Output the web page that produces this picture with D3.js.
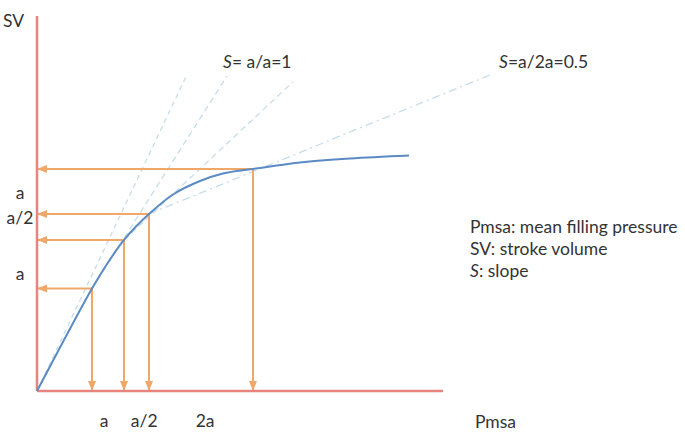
<!DOCTYPE html>
<html>
<head>
<meta charset="utf-8">
<script src="https://cdn.jsdelivr.net/npm/d3@7"></script>
<style>
  html, body { margin: 0; padding: 0; background: #fff; }
  text { font-family: Lato, "Open Sans", sans-serif; fill: #333; font-size: 17.5px; }
</style>
</head>
<body>
<svg id="chart" width="685" height="438"></svg>
<script>
// curve of stroke volume vs Pmsa (data units, 0-100 on both axes)
var curveX = [0, 6.65, 13.55, 17.49, 21.43, 24.38, 27.59, 33.5, 40.15, 45.81, 53.2, 64.78, 77.09, 91.63];
var curveY = [0, 13.6, 27.33, 34.27, 40.27, 43.87, 47.2, 52.4, 56.0, 58.0, 59.2, 60.93, 62.0, 62.8];
// indices of the points that get drop lines to both axes
var dropIdx = [2, 4, 6, 10];

// tangent / slope lines [x1, y1, x2, y2]
var slopeLines = [
  [0, 0, 36.9, 84.3],
  [13.55, 27.33, 46.8, 84.0],
  [21.43, 40.27, 63.0, 82.4],
  [27.59, 47.2, 111.6, 84.3]
];
var slopeDash = ["5,4", "6,4", "6,4", "8,4,2,4"];

var yTickVals = [52.8, 46.1, 31.2];
var yTickLabels = ["a", "a/2", "a"];
var xTickVals = [16.5, 26.4, 41.4];
var xTickLabels = ["a", "a/2", "2a"];
var legendLines = ["Pmsa: mean filling pressure", "SV: stroke volume", "S: slope"];

var svg = d3.select("#chart");
var x = d3.scaleLinear().domain([0, 100]).range([37, 443]);
var y = d3.scaleLinear().domain([0, 100]).range([391, 16]);

var axisCol = "#e8847f", orange = "#f0a868", blue = "#5b8ac4", dashCol = "#c6dde9";

var defs = svg.append("defs");
defs.append("marker")
    .attr("id", "arr")
    .attr("viewBox", "0 0 10 10")
    .attr("refX", 9).attr("refY", 5)
    .attr("markerWidth", 5).attr("markerHeight", 5)
    .attr("orient", "auto-start-reverse")
  .append("path")
    .attr("d", "M0,1 L10,5 L0,9 z")
    .attr("fill", orange);

// slope lines
svg.append("g").selectAll("line")
  .data(slopeLines)
  .join("line")
    .attr("x1", function(d) { return x(d[0]); })
    .attr("y1", function(d) { return y(d[1]); })
    .attr("x2", function(d) { return x(d[2]); })
    .attr("y2", function(d) { return y(d[3]); })
    .attr("stroke", dashCol)
    .attr("stroke-width", 1.3)
    .attr("stroke-dasharray", function(d, i) { return slopeDash[i]; });

// drop lines
var drops = svg.append("g");
dropIdx.forEach(function(i) {
  drops.append("line")
    .attr("x1", x(curveX[i])).attr("y1", y(curveY[i]))
    .attr("x2", x(0) + 1).attr("y2", y(curveY[i]))
    .attr("stroke", orange).attr("stroke-width", 2)
    .attr("marker-end", "url(#arr)");
  drops.append("line")
    .attr("x1", x(curveX[i])).attr("y1", y(curveY[i]))
    .attr("x2", x(curveX[i])).attr("y2", y(0) - 1)
    .attr("stroke", orange).attr("stroke-width", 2)
    .attr("marker-end", "url(#arr)");
});

// axes
svg.append("line")
    .attr("x1", x(0)).attr("y1", y(0)).attr("x2", x(0)).attr("y2", y(100))
    .attr("stroke", axisCol).attr("stroke-width", 2.5);
svg.append("line")
    .attr("x1", x(0)).attr("y1", y(0)).attr("x2", x(100)).attr("y2", y(0))
    .attr("stroke", axisCol).attr("stroke-width", 2.5);

// curve
var pts = curveX.map(function(v, i) { return [v, curveY[i]]; });
svg.append("path")
    .datum(pts)
    .attr("fill", "none")
    .attr("stroke", blue)
    .attr("stroke-width", 2)
    .attr("d", d3.line()
      .x(function(d) { return x(d[0]); })
      .y(function(d) { return y(d[1]); })
      .curve(d3.curveCatmullRom.alpha(0.5)));

// tick labels
svg.append("g").selectAll("text")
  .data(yTickLabels)
  .join("text")
    .attr("x", 20)
    .attr("y", function(d, i) { return y(yTickVals[i]); })
    .attr("dy", "0.35em")
    .attr("text-anchor", "middle")
    .text(function(d) { return d; });

svg.append("g").selectAll("text")
  .data(xTickLabels)
  .join("text")
    .attr("x", function(d, i) { return x(xTickVals[i]); })
    .attr("y", 427)
    .attr("text-anchor", "middle")
    .text(function(d) { return d; });

// axis titles
svg.append("text").attr("x", 3).attr("y", 27).text("SV");
svg.append("text").attr("x", 475).attr("y", 428).text("Pmsa");

// slope labels
var lab1 = svg.append("text").attr("x", 223).attr("y", 68);
lab1.append("tspan").attr("font-style", "italic").text("S");
lab1.append("tspan").text("= a/a=1");
var lab2 = svg.append("text").attr("x", 499).attr("y", 68);
lab2.append("tspan").attr("font-style", "italic").text("S");
lab2.append("tspan").text("=a/2a=0.5");

// legend
svg.append("g").selectAll("text")
  .data(legendLines)
  .join("text")
    .attr("x", 470)
    .attr("y", function(d, i) { return 233 + i * 22; })
    .each(function(d) {
      var t = d3.select(this);
      if (d.indexOf("S:") === 0) {
        t.append("tspan").attr("font-style", "italic").text("S");
        t.append("tspan").text(d.slice(1));
      } else {
        t.text(d);
      }
    });
</script>
</body>
</html>
